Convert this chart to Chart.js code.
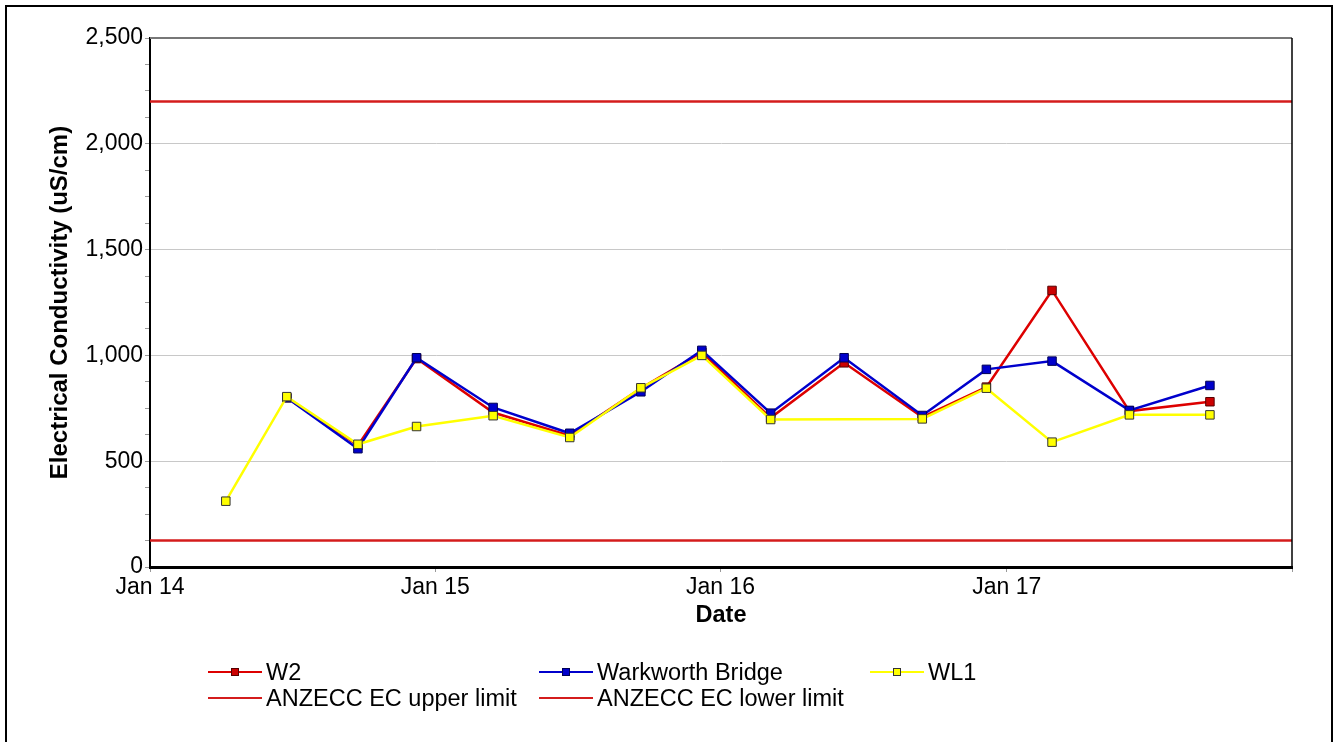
<!DOCTYPE html>
<html>
<head>
<meta charset="utf-8">
<script src="https://cdn.jsdelivr.net/npm/chart.js@4.4.1/dist/chart.umd.min.js"></script>
<style>
  html, body { margin: 0; padding: 0; background: #fff; }
  #wrap { position: relative; width: 1337px; height: 742px; overflow: hidden; }
  #chart { position: absolute; left: 0; top: 0; }
  #frame { position: absolute; left: 5px; top: 5px; width: 1324px; height: 780px; border: 2px solid #000; pointer-events: none; }
  .lg { position: absolute; font-family: "Liberation Sans", Arial, sans-serif; font-size: 23.5px; color: #000; height: 26px; line-height: 26px; white-space: nowrap; }
  .lg .ln { position: absolute; left: 0; top: 12px; width: 54px; height: 0; border-top: 2px solid; }
  .lg .mk { position: absolute; left: 23px; top: 9px; width: 6px; height: 6px; border: 1px solid; }
  .lg .tx { position: absolute; left: 58px; top: 0; }
</style>
</head>
<body>
<div id="wrap">
  <canvas id="chart" width="1337" height="742"></canvas>
  <div id="frame"></div>
  <div id="legend"></div>
</div>
<script>
// sample dates (quarterly monitoring)
const dates = ['2014-04-08', '2014-06-25', '2014-09-24', '2014-12-08', '2015-03-16', '2015-06-22', '2015-09-21',
  '2015-12-08', '2016-03-05', '2016-06-07', '2016-09-15', '2016-12-06', '2017-02-28', '2017-06-07', '2017-09-18'];

// electrical conductivity, uS/cm
const w2 = [null, 800, 575, 985, 730, 620, 845, 1015, 705, 965, 708, 850, 1307, 737, 781];
const warkworth = [null, 800, 559, 989, 754, 632, 828, 1024, 727, 989, 716, 934, 973, 740, 858];
const wl1 = [311, 805, 580, 664, 715, 612, 847, 1000, 697, null, 700, 845, 590, 719, 719];

const upperLimit = 2200;
const lowerLimit = 125;
const tickYears = [2014, 2015, 2016, 2017, 2018];

const ts = d => Date.parse(d + 'T00:00:00Z');
const xMin = Date.UTC(2014, 0, 1);
const xMax = Date.UTC(2018, 0, 1);
const pts = arr => dates.map((d, i) => ({x: ts(d), y: arr[i]}));

const series = [
  {label: 'W2', data: pts(w2), line: '#dd0000', fill: '#cc0000', edge: '#550000', order: 2},
  {label: 'Warkworth Bridge', data: pts(warkworth), line: '#0000cc', fill: '#0000cc', edge: '#000055', order: 1},
  {label: 'WL1', data: pts(wl1), line: '#ffff00', fill: '#ffff00', edge: '#333333', order: 0}
];

const datasets = series.map(s => ({
  label: s.label,
  data: s.data,
  borderColor: s.line,
  backgroundColor: s.fill,
  borderWidth: 2.5,
  pointStyle: 'rect',
  pointRadius: 6,
  pointBorderWidth: 1,
  pointBackgroundColor: s.fill,
  pointBorderColor: s.edge,
  spanGaps: true,
  order: s.order
}));

[['ANZECC EC upper limit', upperLimit], ['ANZECC EC lower limit', lowerLimit]].forEach(([label, v]) => {
  datasets.push({
    label: label,
    data: [{x: xMin, y: v}, {x: xMax, y: v}],
    borderColor: '#d41c1c',
    borderWidth: 2.5,
    pointRadius: 0,
    order: 3
  });
});

// top and right edges of the plot box
const boxEdges = {
  id: 'boxEdges',
  afterDraw(chart) {
    const {ctx, chartArea: a} = chart;
    ctx.save();
    ctx.strokeStyle = '#777';
    ctx.lineWidth = 2;
    ctx.beginPath();
    ctx.moveTo(a.left, a.top);
    ctx.lineTo(a.right, a.top);
    ctx.stroke();
    ctx.strokeStyle = '#000';
    ctx.lineWidth = 1.5;
    ctx.beginPath();
    ctx.moveTo(a.right, a.top);
    ctx.lineTo(a.right, a.bottom);
    ctx.stroke();
    ctx.restore();
  }
};

const font = {family: '"Liberation Sans", Arial, sans-serif', size: 23};

new Chart('chart', {
  type: 'line',
  data: {datasets},
  options: {
    responsive: false,
    animation: false,
    layout: {padding: {left: 46, top: 38, right: 45, bottom: 112}},
    plugins: {legend: {display: false}, tooltip: {enabled: false}},
    scales: {
      x: {
        type: 'linear',
        min: xMin,
        max: xMax,
        afterBuildTicks: scale => { scale.ticks = tickYears.map(y => ({value: Date.UTC(y, 0, 1)})); },
        afterFit: scale => { scale.height = 63; },
        ticks: {
          autoSkip: false,
          maxRotation: 0,
          padding: 2,
          color: '#000',
          font: font,
          callback: v => {
            const y = new Date(v).getUTCFullYear();
            return y === 2018 ? '' : 'Jan ' + String(y).slice(2);
          }
        },
        grid: {drawOnChartArea: false, tickLength: 5, tickColor: '#999'},
        border: {color: '#000', width: 3},
        title: {display: true, text: 'Date', color: '#000', padding: 0,
          font: {family: font.family, size: 23.5, weight: 'bold'}}
      },
      y: {
        min: 0,
        max: 2500,
        afterFit: scale => { scale.width = 104; },
        ticks: {
          stepSize: 125,
          autoSkip: false,
          padding: 2,
          color: '#000',
          font: font,
          callback: v => v % 500 === 0 ? v.toLocaleString('en-US') : ''
        },
        grid: {
          color: c => (c.tick && c.tick.value % 500 === 0 && c.tick.value > 0 && c.tick.value < 2500) ? '#c8c8c8' : 'rgba(0,0,0,0)',
          tickColor: '#999',
          tickLength: 5
        },
        border: {color: '#000', width: 2},
        title: {display: true, text: 'Electrical Conductivity (uS/cm)', color: '#000', padding: 0,
          font: {family: font.family, size: 24, weight: 'bold'}}
      }
    }
  },
  plugins: [boxEdges]
});

// legend laid out in columns like the original
const legendPos = [[208, 659], [539, 659], [870, 659], [208, 685], [539, 685]];
const legendItems = [
  {label: 'W2', color: '#dd0000', fill: '#cc0000', edge: '#550000'},
  {label: 'Warkworth Bridge', color: '#0000cc', fill: '#0000cc', edge: '#000055'},
  {label: 'WL1', color: '#ffff00', fill: '#ffff00', edge: '#333333'},
  {label: 'ANZECC EC upper limit', color: '#d41c1c'},
  {label: 'ANZECC EC lower limit', color: '#d41c1c'}
];
const legend = document.getElementById('legend');
legendItems.forEach((it, i) => {
  const el = document.createElement('div');
  el.className = 'lg';
  el.style.left = legendPos[i][0] + 'px';
  el.style.top = legendPos[i][1] + 'px';
  let html = '<div class="ln" style="border-color:' + it.color + '"></div>';
  if (it.fill) html += '<div class="mk" style="background:' + it.fill + ';border-color:' + it.edge + '"></div>';
  html += '<div class="tx">' + it.label + '</div>';
  el.innerHTML = html;
  legend.appendChild(el);
});
</script>
</body>
</html>
